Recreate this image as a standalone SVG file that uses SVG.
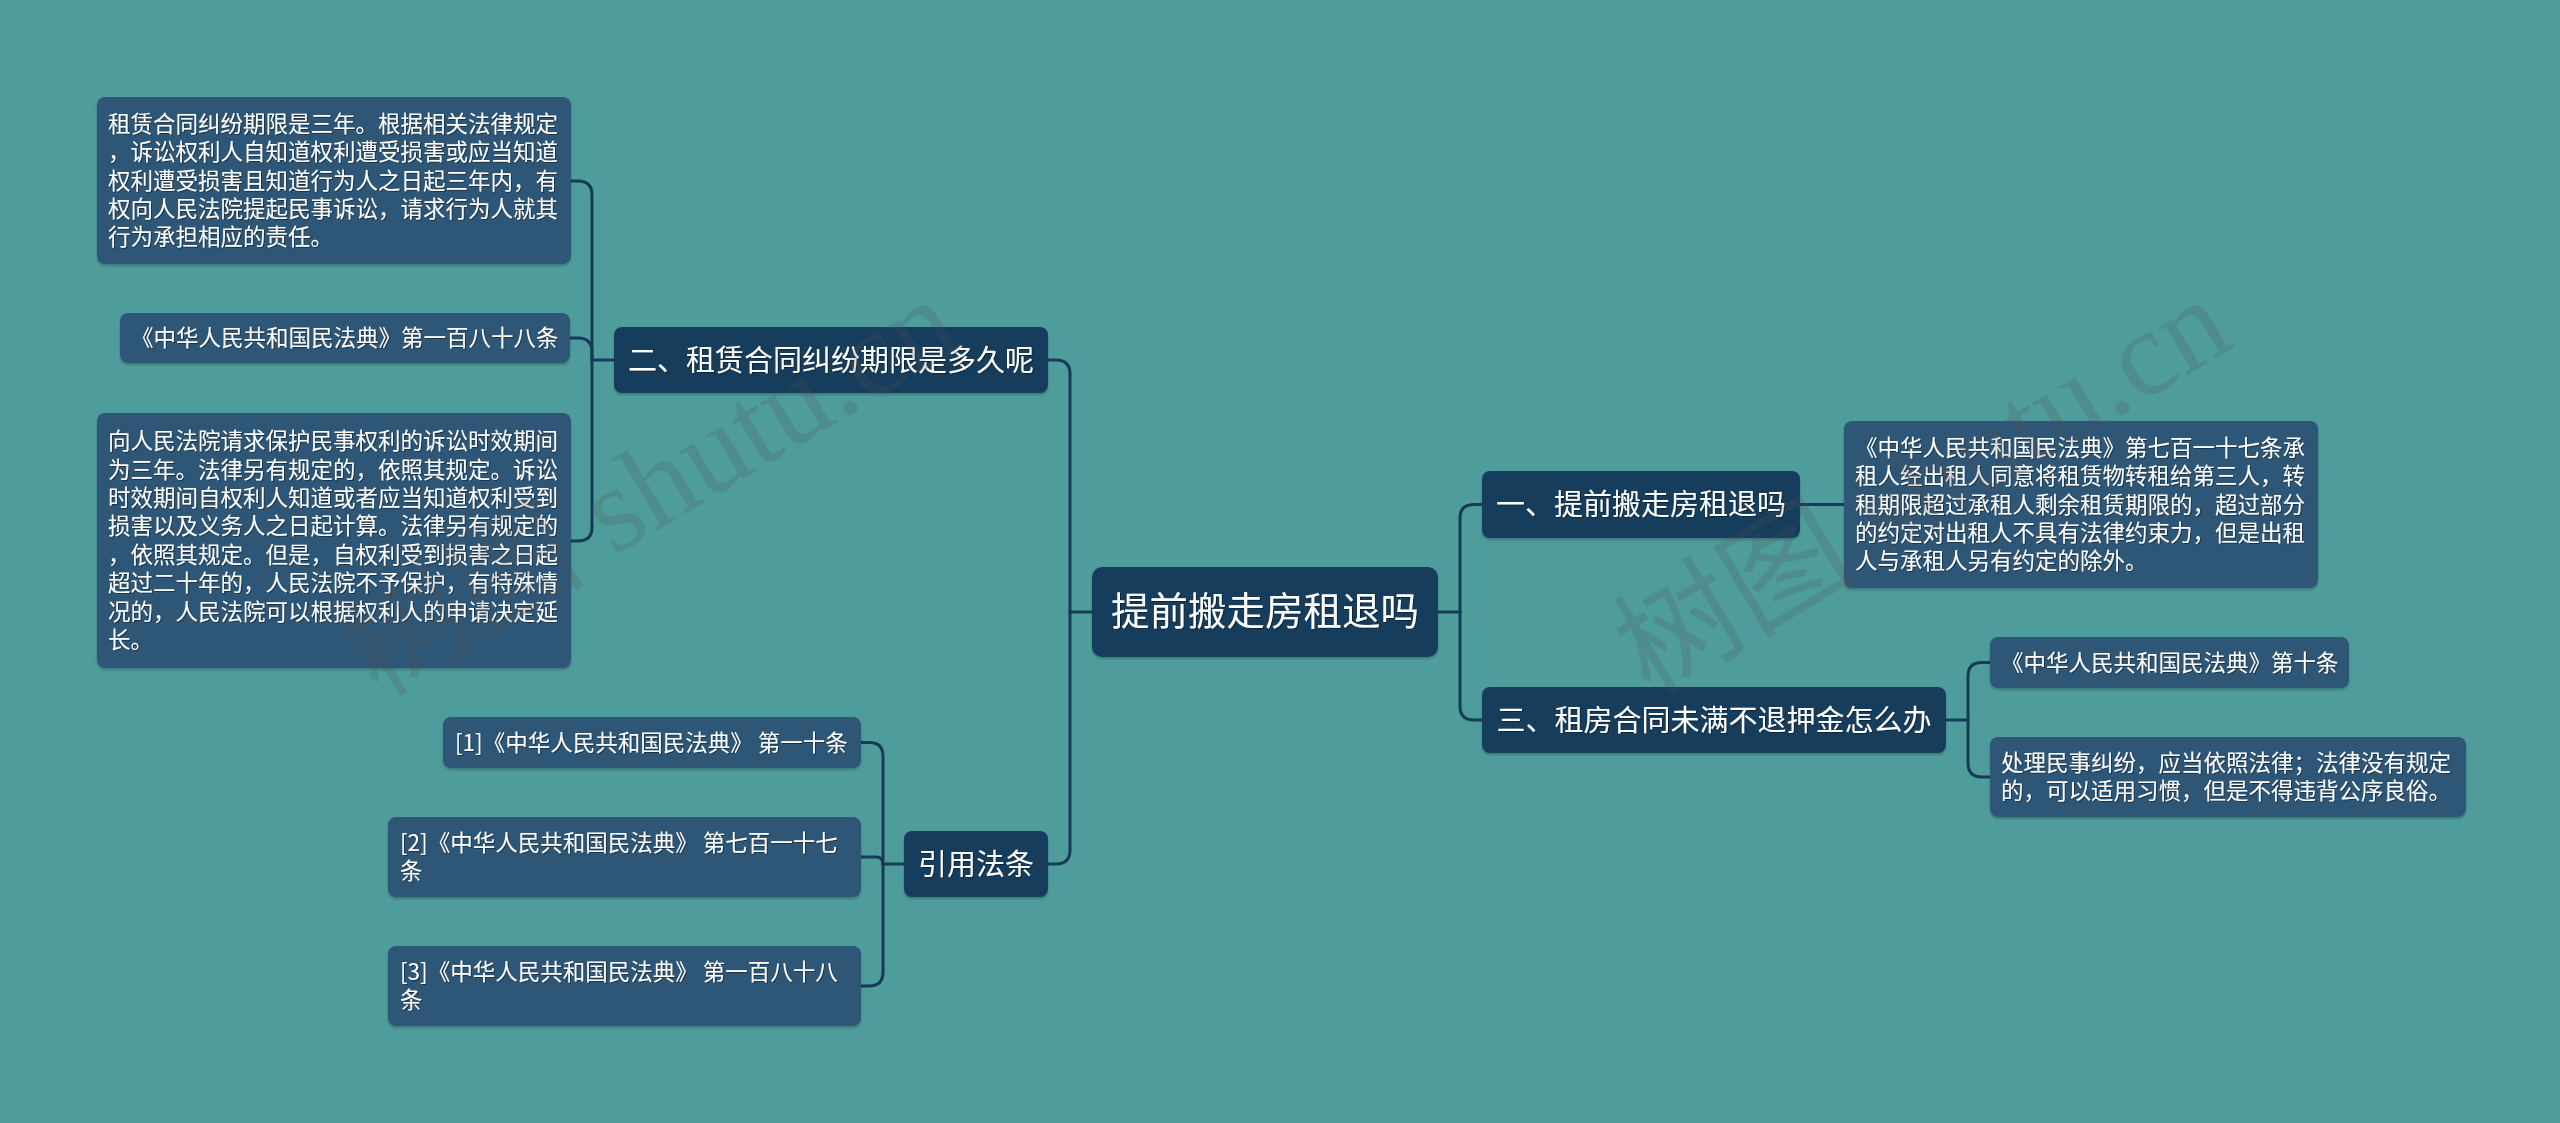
<svg xmlns="http://www.w3.org/2000/svg" width="2560" height="1123" viewBox="0 0 2560 1123">
<defs>
<style>
.bg{fill:#4E9C9C}
.main{fill:#183D5C}
.leaf{fill:#2E5676}
.t{fill:#FFFFFF;font-family:'Noto Sans CJK SC','Noto Sans',sans-serif;filter:url(#ts)}
.tr{font-size:38.5px}
.tb{font-size:29px}
.tl{font-size:22.5px}
.c{fill:none;stroke:#163A57;stroke-width:3;stroke-linecap:round;stroke-linejoin:round}
.wm{fill:#555555;fill-opacity:0.2;font-family:'Liberation Serif','Noto Sans CJK SC',serif;font-size:122px}
</style>
<filter id="ts" x="-5%" y="-20%" width="110%" height="140%">
<feDropShadow dx="1" dy="1" stdDeviation="0.6" flood-color="#000000" flood-opacity="0.4"/>
</filter>
<filter id="bs" x="-5%" y="-10%" width="110%" height="130%">
<feDropShadow dx="0" dy="2" stdDeviation="1" flood-color="#000000" flood-opacity="0.22"/>
</filter>
</defs>
<rect class="bg" x="0" y="0" width="2560" height="1123"/>

<g id="connectors">
<path class="c" d="M1092,612 H1070"/>
<path class="c" d="M1070,612 V374 Q1070,360 1056,360 H1048"/>
<path class="c" d="M1070,612 V850 Q1070,864 1056,864 H1048"/>
<path class="c" d="M1438,612 H1460"/>
<path class="c" d="M1460,612 V518 Q1460,504.5 1474,504.5 H1482"/>
<path class="c" d="M1460,612 V706 Q1460,720 1474,720 H1482"/>
<path class="c" d="M1800,504.5 H1844"/>
<path class="c" d="M1946,720 H1968"/>
<path class="c" d="M1968,720 V676 Q1968,662.5 1982,662.5 H1990"/>
<path class="c" d="M1968,720 V763 Q1968,777 1982,777 H1990"/>
<path class="c" d="M614,360 H592"/>
<path class="c" d="M592,360 V195 Q592,181 578,181 H571"/>
<path class="c" d="M592,360 V352 Q592,338 578,338 H570"/>
<path class="c" d="M592,360 V527 Q592,541 578,541 H571"/>
<path class="c" d="M904,864 H883"/>
<path class="c" d="M883,864 V756 Q883,742.5 869,742.5 H861"/>
<path class="c" d="M883,864 Q883,857 876,857 H861"/>
<path class="c" d="M883,864 V972 Q883,986 869,986 H861"/>
</g>

<g id="root">
<rect class="main" filter="url(#bs)" x="1092" y="567" width="346" height="90" rx="10"/>
<text class="t tr" x="1265" y="624.5" text-anchor="middle">提前搬走房租退吗</text>
</g>

<g id="branch-2">
<rect class="main" filter="url(#bs)" x="614" y="327" width="434" height="66" rx="8"/>
<text class="t tb" x="831" y="370.5" text-anchor="middle">二、租赁合同纠纷期限是多久呢</text>
</g>

<g id="branch-1">
<rect class="main" filter="url(#bs)" x="1482" y="471" width="318" height="67" rx="8"/>
<text class="t tb" x="1641" y="515" text-anchor="middle">一、提前搬走房租退吗</text>
</g>

<g id="branch-3">
<rect class="main" filter="url(#bs)" x="1482" y="687" width="464" height="66" rx="8"/>
<text class="t tb" x="1714" y="730.5" text-anchor="middle">三、租房合同未满不退押金怎么办</text>
</g>

<g id="branch-ref">
<rect class="main" filter="url(#bs)" x="904" y="831" width="144" height="66" rx="8"/>
<text class="t tb" x="976" y="874.5" text-anchor="middle">引用法条</text>
</g>

<g id="leaf-l1">
<rect class="leaf" filter="url(#bs)" x="97" y="97" width="474" height="167" rx="8"/>
<text class="t tl" x="108" y="131.7">
<tspan x="108" y="131.7">租赁合同纠纷期限是三年。根据相关法律规定</tspan>
<tspan x="108" y="160.1">，诉讼权利人自知道权利遭受损害或应当知道</tspan>
<tspan x="108" y="188.5">权利遭受损害且知道行为人之日起三年内，有</tspan>
<tspan x="108" y="216.9">权向人民法院提起民事诉讼，请求行为人就其</tspan>
<tspan x="108" y="245.3">行为承担相应的责任。</tspan>
</text>
</g>

<g id="leaf-l2">
<rect class="leaf" filter="url(#bs)" x="120" y="313" width="450" height="50" rx="8"/>
<text class="t tl" x="131" y="346">《中华人民共和国民法典》第一百八十八条</text>
</g>

<g id="leaf-l3">
<rect class="leaf" filter="url(#bs)" x="97" y="413" width="474" height="255" rx="8"/>
<text class="t tl" x="108" y="449.1">
<tspan x="108" y="449.1">向人民法院请求保护民事权利的诉讼时效期间</tspan>
<tspan x="108" y="477.5">为三年。法律另有规定的，依照其规定。诉讼</tspan>
<tspan x="108" y="505.9">时效期间自权利人知道或者应当知道权利受到</tspan>
<tspan x="108" y="534.3">损害以及义务人之日起计算。法律另有规定的</tspan>
<tspan x="108" y="562.7">，依照其规定。但是，自权利受到损害之日起</tspan>
<tspan x="108" y="591.1">超过二十年的，人民法院不予保护，有特殊情</tspan>
<tspan x="108" y="619.5">况的，人民法院可以根据权利人的申请决定延</tspan>
<tspan x="108" y="647.9">长。</tspan>
</text>
</g>

<g id="leaf-ref1">
<rect class="leaf" filter="url(#bs)" x="443" y="717" width="418" height="51" rx="8"/>
<text class="t tl" x="455" y="750.5">[1]《中华人民共和国民法典》 第一十条</text>
</g>

<g id="leaf-ref2">
<rect class="leaf" filter="url(#bs)" x="388" y="817" width="473" height="80" rx="8"/>
<text class="t tl" x="400" y="850.8">
<tspan x="400" y="850.8">[2]《中华人民共和国民法典》 第七百一十七</tspan>
<tspan x="400" y="879.2">条</tspan>
</text>
</g>

<g id="leaf-ref3">
<rect class="leaf" filter="url(#bs)" x="388" y="946" width="473" height="80" rx="8"/>
<text class="t tl" x="400" y="979.8">
<tspan x="400" y="979.8">[3]《中华人民共和国民法典》 第一百八十八</tspan>
<tspan x="400" y="1008.2">条</tspan>
</text>
</g>

<g id="leaf-r1">
<rect class="leaf" filter="url(#bs)" x="1844" y="421" width="474" height="167" rx="8"/>
<text class="t tl" x="1855" y="455.7">
<tspan x="1855" y="455.7">《中华人民共和国民法典》第七百一十七条承</tspan>
<tspan x="1855" y="484.1">租人经出租人同意将租赁物转租给第三人，转</tspan>
<tspan x="1855" y="512.5">租期限超过承租人剩余租赁期限的，超过部分</tspan>
<tspan x="1855" y="540.9">的约定对出租人不具有法律约束力，但是出租</tspan>
<tspan x="1855" y="569.3">人与承租人另有约定的除外。</tspan>
</text>
</g>

<g id="leaf-r2">
<rect class="leaf" filter="url(#bs)" x="1990" y="637" width="359" height="51" rx="8"/>
<text class="t tl" x="2001" y="670.5">《中华人民共和国民法典》第十条</text>
</g>

<g id="leaf-r3">
<rect class="leaf" filter="url(#bs)" x="1990" y="737" width="476" height="80" rx="8"/>
<text class="t tl" x="2001" y="770.8">
<tspan x="2001" y="770.8">处理民事纠纷，应当依照法律；法律没有规定</tspan>
<tspan x="2001" y="799.2">的，可以适用习惯，但是不得违背公序良俗。</tspan>
</text>
</g>

<g id="watermark">
<text class="wm" transform="translate(378,698) rotate(-31)">树图 shutu.cn</text>
<text class="wm" transform="translate(1650,698) rotate(-31)">树图 shutu.cn</text>
</g>
</svg>
